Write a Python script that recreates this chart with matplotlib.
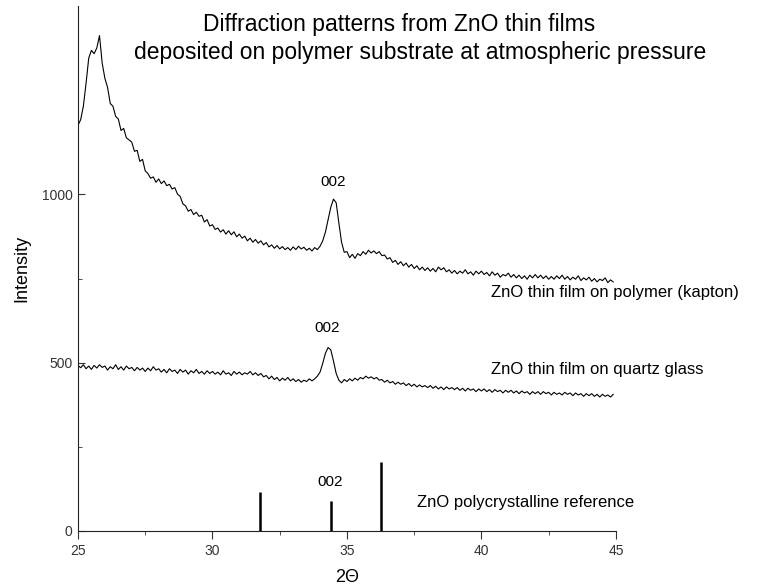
import numpy as np
import matplotlib.pyplot as plt
from matplotlib.ticker import MultipleLocator

plt.rcParams['font.family'] = ['Liberation Sans', 'DejaVu Sans']

# scan grid of the diffractometer (2-theta, degrees)
SCAN_START = 25.0
SCAN_STEP  = 0.1
SCAN_N     = 200

# ZnO film on kapton; first point is the detector reading at 25 deg
kapton_first = 860
kapton = [
    1205, 1222, 1262, 1330, 1405, 1428, 1418, 1435, 1472, 1390,
    1345, 1318, 1270, 1262, 1232, 1224, 1190, 1196, 1168, 1162,
    1155, 1128, 1131, 1098, 1104, 1070, 1062, 1048, 1052, 1036,
    1046, 1032, 1040, 1026, 1030, 1016, 1020, 1001, 994, 972,
    966, 950, 955, 940, 947, 935, 938, 918, 925, 906,
    910, 896, 900, 888, 895, 882, 892, 880, 889, 874,
    882, 870, 876, 862, 870, 858, 866, 855, 862, 850,
    857, 844, 850, 840, 848, 838, 845, 836, 842, 834,
    844, 836, 846, 838, 843, 834, 840, 832, 842, 836,
    846, 862, 888, 925, 962, 986, 975, 915, 858, 828,
    830, 812, 822, 810, 824, 818, 830, 822, 834, 826,
    832, 824, 830, 818, 820, 808, 812, 798, 804, 792,
    800, 788, 796, 784, 792, 780, 788, 776, 784, 774,
    782, 772, 780, 770, 784, 776, 782, 770, 776, 766,
    774, 764, 772, 766, 776, 764, 770, 760, 772, 764,
    772, 762, 768, 758, 770, 760, 766, 754, 762, 758,
    766, 754, 762, 752, 760, 750, 758, 748, 760, 752,
    762, 752, 760, 750, 758, 748, 756, 748, 758, 750,
    760, 748, 756, 746, 754, 748, 758, 744, 752, 746,
    754, 742, 750, 740, 748, 744, 752, 738, 746, 740,
]

# ZnO film on quartz glass
quartz = [
    492, 485, 494, 482, 490, 480, 492, 484, 494, 486,
    490, 478, 488, 482, 494, 480, 488, 478, 490, 482,
    486, 476, 486, 478, 484, 474, 484, 476, 488, 478,
    482, 472, 480, 470, 482, 474, 478, 468, 480, 472,
    478, 466, 476, 470, 480, 468, 474, 466, 476, 468,
    474, 466, 472, 464, 476, 466, 470, 462, 474, 466,
    472, 464, 470, 466, 474, 464, 470, 462, 468, 458,
    462, 452, 460, 450, 456, 446, 454, 448, 456, 446,
    452, 444, 450, 442, 448, 444, 452, 446, 452, 460,
    472, 498, 528, 545, 538, 505, 468, 448, 440, 450,
    444, 452, 446, 454, 448, 456, 452, 460, 454, 458,
    452, 456, 448, 450, 442, 448, 440, 444, 436, 442,
    436, 440, 432, 438, 430, 436, 428, 434, 428, 432,
    426, 432, 424, 430, 422, 428, 420, 428, 422, 426,
    420, 426, 418, 424, 416, 424, 418, 422, 414, 422,
    416, 422, 414, 420, 412, 420, 414, 418, 410, 418,
    412, 418, 410, 416, 408, 416, 410, 414, 406, 414,
    408, 414, 406, 414, 408, 412, 404, 412, 406, 410,
    404, 412, 406, 410, 402, 410, 404, 408, 400, 408,
    402, 408, 400, 406, 398, 406, 400, 404, 398, 406,
]

# ZnO polycrystalline reference lines
ref_pos = [31.77, 34.42, 36.25]
ref_int = [116, 89, 205]

title_lines = ["Diffraction patterns from ZnO thin films",
               "deposited on polymer substrate at atmospheric pressure"]

scan = SCAN_START + SCAN_STEP * np.arange(SCAN_N)
x_k = np.concatenate([[SCAN_START], scan])
y_k = np.concatenate([[kapton_first], kapton])

fig = plt.figure(figsize=(7.63, 5.86), dpi=100)
ax = fig.add_axes([0.1022, 0.0939, 0.705, 0.896])

ax.plot(x_k, y_k, color='black', lw=0.8)
ax.plot(scan, quartz, color='black', lw=0.8)
ax.vlines(ref_pos, 0, ref_int, color='black', lw=1.8)

ax.set_xlim(25, 45)
ax.set_ylim(0, 1560)
ax.xaxis.set_major_locator(MultipleLocator(5))
ax.xaxis.set_minor_locator(MultipleLocator(2.5))
ax.set_yticks([0, 500, 1000])
ax.set_yticks([250, 750], minor=True)
for s in ['top', 'right']:
    ax.spines[s].set_visible(False)
for s in ['left', 'bottom']:
    ax.spines[s].set_color('#222222')
ax.tick_params(axis='x', which='major', direction='out', length=6, labelsize=10,
               labelcolor='#333333', color='#333333')
ax.tick_params(axis='x', which='minor', direction='out', length=3, color='#333333')
ax.tick_params(axis='y', which='major', direction='in', length=5, pad=4, labelsize=10,
               labelcolor='#333333', color='#333333')
ax.tick_params(axis='y', which='minor', direction='in', length=3, color='#333333')

ax.set_xlabel('2Θ', fontsize=13, labelpad=8)
ax.set_ylabel('Intensity', fontsize=13)
ax.yaxis.set_label_coords(-0.089, 0.5)

ax.text(40.36, 708, 'ZnO thin film on polymer (kapton)', fontsize=12, va='center')
ax.text(40.36, 479, 'ZnO thin film on quartz glass', fontsize=12, va='center')
ax.text(37.62, 86, 'ZnO polycrystalline reference', fontsize=12, va='center')
ax.text(34.50, 1036, '002', fontsize=11, ha='center', va='center')
ax.text(34.28, 604, '002', fontsize=11, ha='center', va='center')
ax.text(34.39, 146, '002', fontsize=11, ha='center', va='center')

fig.text(0.523, 1 - 25 / 586, title_lines[0], fontsize=16.5, ha='center', va='center')
fig.text(0.550, 1 - 53 / 586, title_lines[1], fontsize=16.5, ha='center', va='center')

fig.savefig('out.png', dpi=100)
